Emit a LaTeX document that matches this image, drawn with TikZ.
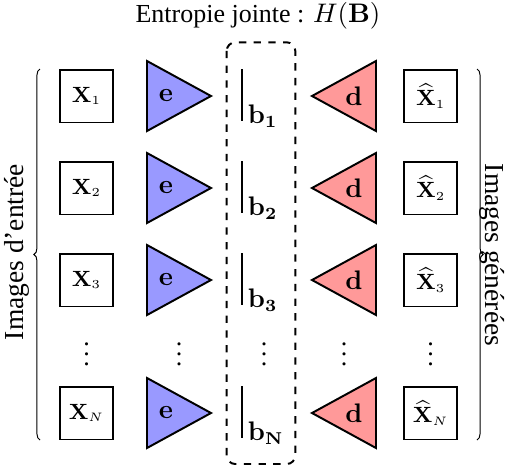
\documentclass[tikz,border=0pt]{standalone}
\usepackage[no-math]{fontspec}
\setmainfont{Liberation Serif}
\usetikzlibrary{decorations.pathreplacing}

\tikzset{
  imgbox/.style={draw, line width=0.8pt, minimum size=21.6pt, inner sep=0pt,
    font=\fontsize{8.8}{10}\selectfont},
  encfill/.style={draw, line width=0.8pt, fill=blue!40, line join=miter},
  decfill/.style={draw, line width=0.8pt, fill=red!40, line join=miter},
  codebox/.style={draw, dashed, line width=0.8pt, rounded corners=3.5pt},
  codebar/.style={line width=0.8pt},
  bracket/.style={decorate, decoration={brace, amplitude=2.5pt}, line width=0.4pt},
  sidelabel/.style={font=\fontsize{11.2}{13}\selectfont},
}

\begin{document}
\begin{tikzpicture}[x=0.408pt, y=-0.408pt, font=\fontsize{10.6}{12.7}\selectfont]
  \useasboundingbox (0,0) rectangle (509,470);

  % title
  \node (title) at (258,16) {Entropie jointe : $H(\mathbf{B})$};

  % shared latent code
  \draw[codebox] (226.7,42.3) rectangle (295.3,464);

  % one row per image: input, encoder, code, decoder, output
  \foreach \y/\s/\n in {96/1/1, 188/2/2, 280/3/3, 413/N/N} {
    \node[imgbox] (x\n) at (86.5,\y) {$\mathbf{X}_{\scriptscriptstyle\s}$};
    \draw[encfill] (147,\y-35) -- (211,\y) -- (147,\y+35) -- cycle;
    \node (e\n) at (166,\y) {$\mathbf{e}$};
    \draw[codebar] (242,\y-27) -- (242,\y+25);
    \node[anchor=base west, inner sep=0pt] (b\n) at (247.5,\y+27) {$\mathbf{b_{\s}}$};
    \draw[decfill] (376,\y-35) -- (312,\y) -- (376,\y+35) -- cycle;
    \node (d\n) at (354,\y) {$\mathbf{d}$};
    \node[imgbox] (y\n) at (430.7,\y) {$\widehat{\mathbf{X}}_{\scriptscriptstyle\s}$};
  }

  % ellipsis row
  \foreach \x/\n in {86.7/x, 179/e, 264/b, 344/d, 430.7/y}
    \node (dots\n) at (\x,347) {$\vdots$};

  % braces and side labels
  \draw[bracket] (40,440) -- (40,69);
  \node[sidelabel, rotate=90] (lin) at (17,252) {Images d'entrée};
  \draw[bracket] (477,69) -- (477,440);
  \node[sidelabel, rotate=-90] (lout) at (492,255) {Images générées};
\end{tikzpicture}
\end{document}
